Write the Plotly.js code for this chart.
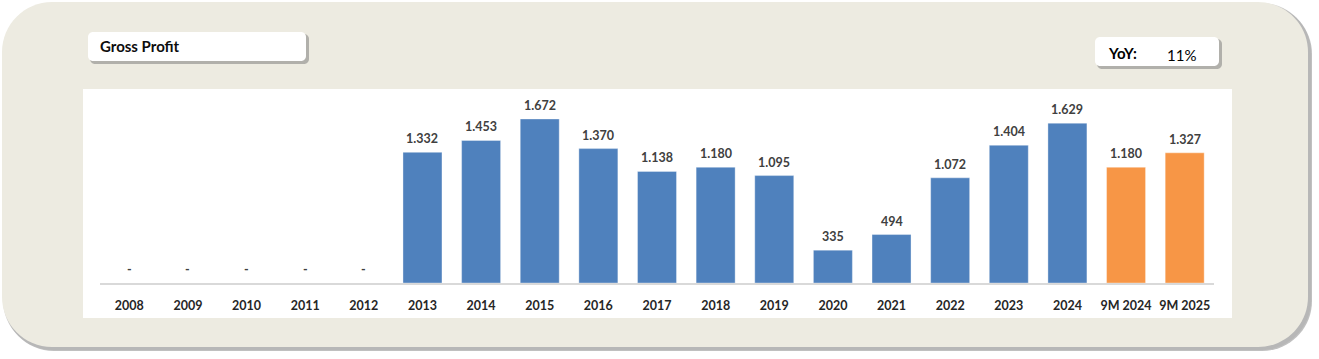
<!DOCTYPE html>
<html>
<head>
<meta charset="utf-8">
<script src="https://cdn.plot.ly/plotly-3.0.1.min.js"></script>
<style>
html,body{margin:0;padding:0;background:#ffffff;}
#chart{width:1319px;height:359px;}
</style>
</head>
<body>
<div id="chart"></div>
<script>
// ---- data ----
const categories = ['2008','2009','2010','2011','2012','2013','2014','2015','2016','2017','2018','2019','2020','2021','2022','2023','2024','9M 2024','9M 2025'];
const grossProfit = [0,0,0,0,0,1332,1453,1672,1370,1138,1180,1095,335,494,1072,1404,1629,1180,1327];
const chartTitle = 'Gross Profit';
const yoyLabel = 'YoY:';
const yoyValue = '11%';

// ---- geometry ----
const W = 1319, H = 359;
const M = {l:100, r:105, t:88, b:76};
const PW = W - M.l - M.r, PH = H - M.t - M.b;
const X = px => (px - M.l) / PW;
const Y = py => (H - M.b - py) / PH;

function rr(x0, y0, x1, y1, r) {
  const k = 0.5523 * r;
  return 'M' + X(x0 + r) + ',' + Y(y0) +
    ' L' + X(x1 - r) + ',' + Y(y0) +
    ' C' + X(x1 - r + k) + ',' + Y(y0) + ' ' + X(x1) + ',' + Y(y0 + r - k) + ' ' + X(x1) + ',' + Y(y0 + r) +
    ' L' + X(x1) + ',' + Y(y1 - r) +
    ' C' + X(x1) + ',' + Y(y1 - r + k) + ' ' + X(x1 - r + k) + ',' + Y(y1) + ' ' + X(x1 - r) + ',' + Y(y1) +
    ' L' + X(x0 + r) + ',' + Y(y1) +
    ' C' + X(x0 + r - k) + ',' + Y(y1) + ' ' + X(x0) + ',' + Y(y1 - r + k) + ' ' + X(x0) + ',' + Y(y1 - r) +
    ' L' + X(x0) + ',' + Y(y0 + r) +
    ' C' + X(x0) + ',' + Y(y0 + r - k) + ' ' + X(x0 + r - k) + ',' + Y(y0) + ' ' + X(x0 + r) + ',' + Y(y0) + ' Z';
}
function shp(path, color, opacity) {
  return {type:'path', xref:'paper', yref:'paper', path:path, fillcolor:color,
          opacity: opacity === undefined ? 1 : opacity, line:{width:0}, layer:'below'};
}

const shapes = [
  shp(rr(4, 4, 1312, 351, 50), '#8c8c8c', 0.55),
  shp(rr(3, 3, 1311, 350, 50), '#b0b0b0', 0.6),
  shp(rr(2, 2, 1308, 347, 50), '#EDEBE1'),
  {type:'rect', xref:'paper', yref:'paper', x0:X(83), x1:X(1232), y0:Y(318), y1:Y(89), fillcolor:'#ffffff', line:{width:0}, layer:'below'},
  shp(rr(90, 34, 309, 64, 5), '#7f7f7f', 0.55),
  shp(rr(88, 32, 306, 61, 5), '#ffffff'),
  shp(rr(1097, 39, 1222, 69, 5), '#7f7f7f', 0.55),
  shp(rr(1095, 37, 1219, 66, 5), '#ffffff')
];

const fmt = v => v === 0 ? '-' : v.toLocaleString('de-DE');
const barColors = categories.map(c => c.startsWith('9M') ? '#F79646' : '#4F81BD');

const annotations = categories.map((c, i) => ({
  x: i, y: grossProfit[i], xref:'x', yref:'y', text: fmt(grossProfit[i]),
  showarrow:false, yanchor:'bottom', yshift:4,
  font:{family:'Lato, "Open Sans", sans-serif', size:12.5, color:'#404040', weight:'bold'}
}));
annotations.push({
  xref:'paper', yref:'paper', x:X(1106), y:Y(53), xanchor:'left', yanchor:'middle',
  text:'<b>' + yoyLabel + '</b>', showarrow:false,
  font:{family:'Lato, sans-serif', size:15, color:'#000000'}
});
annotations.push({
  xref:'paper', yref:'paper', x:X(1165), y:Y(55), xanchor:'left', yanchor:'middle',
  text: yoyValue, showarrow:false,
  font:{family:'Lato, sans-serif', size:15, color:'#000000'}
});

const trace = {
  type:'bar', x:categories, y:grossProfit,
  marker:{color:barColors, line:{color:'rgba(255,255,255,0.35)', width:1}},
  hoverinfo:'skip'
};

const layout = {
  width:W, height:H, margin:M,
  paper_bgcolor:'#ffffff', plot_bgcolor:'rgba(0,0,0,0)',
  showlegend:false, bargap:0.335,
  title:{text:'<b>' + chartTitle + '</b>', xref:'container', yref:'container',
         x:100/W, xanchor:'left', y:1 - 47/H, yanchor:'middle',
         font:{family:'Lato, sans-serif', size:15, color:'#0d0d0d'}},
  xaxis:{type:'category', range:[-0.5, 18.5], showgrid:false, zeroline:false,
         showline:true, linecolor:'#D9D9D9', linewidth:1.5, ticks:'', ticklabelstandoff:10,
         tickfont:{family:'Lato, "Open Sans", sans-serif', size:12.5, color:'#262626', weight:'bold'},
         fixedrange:true},
  yaxis:{range:[0, 1988], visible:false, showgrid:false, zeroline:false, fixedrange:true},
  shapes:shapes, annotations:annotations
};

Plotly.newPlot('chart', [trace], layout, {staticPlot:true, displayModeBar:false});
</script>
</body>
</html>
